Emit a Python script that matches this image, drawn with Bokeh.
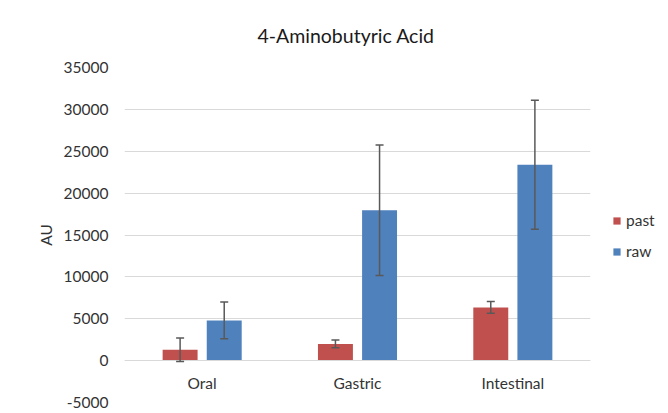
from bokeh.plotting import figure
from bokeh.models import (Range1d, ColumnDataSource, Whisker, TeeHead, Legend, LegendItem,
                          SingleIntervalTicker, NumeralTickFormatter)
from bokeh.transform import dodge
from bokeh.embed import file_html
from bokeh.resources import INLINE

categories = ["Oral", "Gastric", "Intestinal"]
series_names = ["past", "raw"]
past = [1300, 2000, 6350]
past_err = [1400, 450, 700]
raw = [4800, 17950, 23400]
raw_err = [2200, 7800, 7700]

title = "4-Aminobutyric Acid"
y_label = "AU"

FONT = "Lato"
TXT = "#333333"
GRID = "#d9d9d9"
RED = "#C0504D"
BLUE = "#4F81BD"
ERR = "#595959"

src = ColumnDataSource(dict(
    cat=categories,
    past=past,
    past_up=[v + e for v, e in zip(past, past_err)],
    past_lo=[v - e for v, e in zip(past, past_err)],
    raw=raw,
    raw_up=[v + e for v, e in zip(raw, raw_err)],
    raw_lo=[v - e for v, e in zip(raw, raw_err)],
))

p = figure(x_range=categories, y_range=Range1d(-5000, 35000),
           frame_width=466, frame_height=335,
           output_backend="svg", toolbar_location=None,
           min_border_left=124, min_border_right=78, min_border_top=67, min_border_bottom=11)
p.outline_line_color = None

p.title.text = title
p.title.text_font = FONT
p.title.text_font_size = "19.5px"
p.title.text_font_style = "normal"
p.title.text_color = "#1a1a1a"
p.title.text_line_height = 1.0
p.title.align = "left"
p.title.offset = 133
p.title.standoff = 42

off = 0.142
w = 0.225
r1 = p.vbar(x=dodge("cat", -off, range=p.x_range), top="past", width=w, source=src,
            fill_color=RED, line_color=None)
r2 = p.vbar(x=dodge("cat", off, range=p.x_range), top="raw", width=w, source=src,
            fill_color=BLUE, line_color=None)

for d, up, lo in ((-off, "past_up", "past_lo"), (off, "raw_up", "raw_lo")):
    wk = Whisker(base=dodge("cat", d, range=p.x_range), upper=up, lower=lo, source=src,
                 line_color=ERR, line_width=1.5, level="annotation",
                 upper_head=TeeHead(size=8, line_color=ERR, line_width=1.5),
                 lower_head=TeeHead(size=8, line_color=ERR, line_width=1.5))
    p.add_layout(wk)

p.ygrid.grid_line_color = GRID
p.xgrid.grid_line_color = None
p.yaxis.ticker = SingleIntervalTicker(interval=5000)
p.yaxis.formatter = NumeralTickFormatter(format="0")
p.yaxis.axis_line_color = None
p.yaxis.major_tick_line_color = None
p.yaxis.minor_tick_line_color = None
p.yaxis.major_tick_out = 0
p.yaxis.major_label_standoff = 12
p.yaxis.major_label_text_font = FONT
p.yaxis.major_label_text_font_size = "15.5px"
p.yaxis.major_label_text_color = TXT
p.yaxis.axis_label = y_label
p.yaxis.axis_label_text_font = FONT
p.yaxis.axis_label_text_font_size = "15.5px"
p.yaxis.axis_label_text_font_style = "normal"
p.yaxis.axis_label_text_color = TXT
p.yaxis.axis_label_standoff = 6

p.xaxis.axis_line_color = GRID
p.xaxis.major_tick_line_color = None
p.xaxis.minor_tick_line_color = None
p.xaxis.major_tick_out = 0
p.xaxis.major_label_standoff = 13
p.xaxis.major_label_text_font = FONT
p.xaxis.major_label_text_font_size = "15.5px"
p.xaxis.major_label_text_color = TXT
p.xaxis.fixed_location = 0

legend = Legend(items=[LegendItem(label=series_names[0], renderers=[r1]),
                       LegendItem(label=series_names[1], renderers=[r2])],
                location=(22, 141), margin=0, padding=0, spacing=11,
                glyph_width=9, glyph_height=9, label_height=20, label_standoff=5,
                border_line_color=None, background_fill_alpha=0,
                label_text_font=FONT, label_text_font_size="15.5px", label_text_color=TXT)
p.add_layout(legend, "right")

open("out.html", "w").write(file_html(p, INLINE))
